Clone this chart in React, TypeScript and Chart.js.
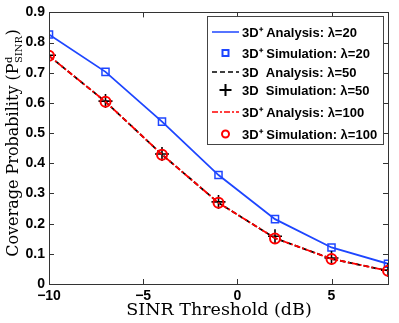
import React, { useEffect, useRef } from 'react';
import { Chart, registerables } from 'chart.js';

Chart.register(...registerables);

const sinrThreshold = [-10, -7, -4, -1, 2, 5, 8];
const analysis3DPlus20 = [0.827, 0.703, 0.538, 0.361, 0.215, 0.121, 0.067];
const simulation3DPlus20 = [0.827, 0.703, 0.538, 0.361, 0.215, 0.121, 0.067];
const analysis3D50 = [0.756, 0.604, 0.429, 0.269, 0.152, 0.083, 0.044];
const simulation3D50 = [0.758, 0.606, 0.431, 0.272, 0.158, 0.086, 0.046];
const analysis3DPlus100 = [0.756, 0.604, 0.429, 0.269, 0.152, 0.083, 0.044];
const simulation3DPlus100 = [0.756, 0.604, 0.428, 0.269, 0.151, 0.083, 0.044];
const xTickValues = [-10, -5, 0, 5];
const yTickValues = [0, 0.1, 0.2, 0.3, 0.4, 0.5, 0.6, 0.7, 0.8, 0.9];
const legendLabels = [
  '3D\u207A Analysis: \u03BB=20',
  '3D\u207A Simulation: \u03BB=20',
  '3D  Analysis: \u03BB=50',
  '3D  Simulation: \u03BB=50',
  '3D\u207A Analysis: \u03BB=100',
  '3D\u207A Simulation: \u03BB=100',
];
const xTitle = 'SINR Threshold (dB)';
const yTitle = 'Coverage Probability (';

const BLUE = 'rgb(30,70,255)';
const RED = 'rgb(255,0,0)';
const BLACK = 'rgb(0,0,0)';

const fmt = (v: number) => {
  const r = Math.round(v * 10) / 10;
  if (r < 0) return '\u2212' + String(-r);
  return String(r);
};

const decorPlugin = {
  id: 'decor',
  afterDraw(chart: any) {
    const ctx = chart.ctx as CanvasRenderingContext2D;
    const a = chart.chartArea;
    const xs = chart.scales.x;
    const ys = chart.scales.y;
    ctx.save();
    // box
    ctx.strokeStyle = '#333';
    ctx.lineWidth = 1;
    ctx.strokeRect(Math.round(a.left) + 0.5, Math.round(a.top) + 0.5, Math.round(a.right - a.left), Math.round(a.bottom - a.top));
    // inward ticks
    const tl = 5;
    ctx.beginPath();
    for (const v of xTickValues.concat([8])) {
      const px = Math.round(xs.getPixelForValue(v)) + 0.5;
      ctx.moveTo(px, a.bottom);
      ctx.lineTo(px, a.bottom - tl);
      ctx.moveTo(px, a.top);
      ctx.lineTo(px, a.top + tl);
    }
    for (const v of yTickValues) {
      const py = Math.round(ys.getPixelForValue(v)) + 0.5;
      ctx.moveTo(a.left, py);
      ctx.lineTo(a.left + tl, py);
      ctx.moveTo(a.right, py);
      ctx.lineTo(a.right - tl, py);
    }
    ctx.stroke();

    const serif = '"DejaVu Serif"';
    // x title
    ctx.fillStyle = '#000';
    ctx.font = '17.5px ' + serif;
    ctx.textAlign = 'center';
    ctx.textBaseline = 'alphabetic';
    ctx.fillText(xTitle, 219, 315);

    // y title with P^d_SINR
    ctx.save();
    ctx.translate(18, 143);
    ctx.rotate(-Math.PI / 2);
    const mainFont = '16px ' + serif;
    const smallFont = '10px ' + serif;
    ctx.font = mainFont;
    const w1 = ctx.measureText(yTitle).width;
    const wP = ctx.measureText('P').width;
    const wClose = ctx.measureText(')').width;
    ctx.font = smallFont;
    const wSub = Math.max(ctx.measureText('SINR').width, ctx.measureText('d').width);
    const total = w1 + wP + wSub + 1 + wClose;
    let x = -total / 2;
    ctx.textAlign = 'left';
    ctx.textBaseline = 'alphabetic';
    ctx.font = mainFont;
    ctx.fillText(yTitle, x, 0);
    x += w1;
    ctx.fillText('P', x, 0);
    x += wP;
    ctx.font = smallFont;
    ctx.fillText('d', x + 0.5, -6);
    ctx.fillText('SINR', x + 0.5, 4);
    x += wSub + 1;
    ctx.font = mainFont;
    ctx.fillText(')', x, 0);
    ctx.restore();

    // legend
    const lx = 207, ly = 16, lw = 176, lh = 128;
    ctx.fillStyle = '#fff';
    ctx.fillRect(lx, ly, lw, lh);
    ctx.strokeStyle = '#444';
    ctx.lineWidth = 1;
    ctx.strokeRect(lx + 0.5, ly + 0.5, lw, lh);
    const rows = [32, 53, 72, 90, 112, 134];
    const sx0 = 212, sx1 = 239, mx = 225.5;
    const styles = [
      { type: 'line', color: BLUE, dash: [] as number[] },
      { type: 'rect', color: BLUE },
      { type: 'line', color: BLACK, dash: [5, 3] },
      { type: 'cross', color: BLACK },
      { type: 'line', color: RED, dash: [6, 2, 2, 2] },
      { type: 'circle', color: RED },
    ];
    styles.forEach((s: any, i) => {
      const y = rows[i];
      ctx.strokeStyle = s.color;
      ctx.lineWidth = s.type === 'line' ? 1.5 : 2;
      ctx.setLineDash(s.dash || []);
      ctx.beginPath();
      if (s.type === 'line') {
        ctx.moveTo(sx0, y);
        ctx.lineTo(sx1, y);
      } else if (s.type === 'rect') {
        ctx.rect(mx - 3, y - 3, 6, 6);
      } else if (s.type === 'cross') {
        ctx.moveTo(mx - 6, y);
        ctx.lineTo(mx + 6, y);
        ctx.moveTo(mx, y - 6);
        ctx.lineTo(mx, y + 6);
      } else {
        ctx.arc(mx, y, 3.5, 0, Math.PI * 2);
      }
      ctx.stroke();
      ctx.setLineDash([]);
      ctx.fillStyle = '#000';
      ctx.font = 'bold 13px "Liberation Sans"';
      ctx.textAlign = 'left';
      ctx.textBaseline = 'middle';
      ctx.fillText(legendLabels[i], 242, y + 1);
    });
    ctx.restore();
  },
};

const toPts = (ys: number[]) => sinrThreshold.map((x, i) => ({ x, y: ys[i] }));

export default function App() {
  const ref = useRef<HTMLCanvasElement>(null);
  useEffect(() => {
    if (!ref.current) return;
    const chart = new Chart(ref.current, {
      type: 'line',
      data: {
        datasets: [
          { label: legendLabels[0], data: toPts(analysis3DPlus20), borderColor: BLUE, borderWidth: 1.8, pointRadius: 0, fill: false, order: 6 },
          { label: legendLabels[1], data: toPts(simulation3DPlus20), showLine: false, pointStyle: 'rect', pointRadius: 5, borderColor: BLUE, backgroundColor: 'rgba(0,0,0,0)', pointBorderWidth: 1.5, order: 5 },
          { label: legendLabels[2], data: toPts(analysis3D50), borderColor: BLACK, borderWidth: 1.8, borderDash: [5, 3], pointRadius: 0, fill: false, order: 4 },
          { label: legendLabels[3], data: toPts(simulation3D50), showLine: false, pointStyle: 'cross', pointRadius: 7, borderColor: BLACK, backgroundColor: BLACK, pointBorderWidth: 1.6, order: 3 },
          { label: legendLabels[4], data: toPts(analysis3DPlus100), borderColor: RED, borderWidth: 1.8, borderDash: [6, 2, 2, 2], pointRadius: 0, fill: false, order: 2 },
          { label: legendLabels[5], data: toPts(simulation3DPlus100), showLine: false, pointStyle: 'circle', pointRadius: 5, borderColor: RED, backgroundColor: 'rgba(0,0,0,0)', pointBorderWidth: 2, order: 1 },
        ] as any,
      },
      options: {
        animation: false,
        responsive: false,
        devicePixelRatio: 1,
        layout: { padding: { top: 11, right: 11, left: 0, bottom: 0 } },
        plugins: { legend: { display: false }, tooltip: { enabled: false } },
        elements: { line: { tension: 0 } },
        scales: {
          x: {
            type: 'linear',
            min: -10,
            max: 8,
            border: { display: false },
            grid: { display: false, drawTicks: false },
            afterBuildTicks: (s: any) => { s.ticks = xTickValues.map((v) => ({ value: v })); },
            afterFit: (s: any) => { s.height = 39; },
            ticks: {
              padding: 4,
              color: '#000',
              font: { family: '"Liberation Sans"', size: 14, weight: 'bold' },
              callback: (v: any) => fmt(Number(v)),
              maxRotation: 0,
              autoSkip: false,
            },
          },
          y: {
            type: 'linear',
            min: 0,
            max: 0.9,
            border: { display: false },
            grid: { display: false, drawTicks: false },
            afterBuildTicks: (s: any) => { s.ticks = yTickValues.map((v) => ({ value: v })); },
            afterFit: (s: any) => { s.width = 49; },
            ticks: {
              padding: 4,
              color: '#000',
              font: { family: '"Liberation Sans"', size: 14, weight: 'bold' },
              callback: (v: any) => fmt(Number(v)),
              autoSkip: false,
            },
          },
        },
      } as any,
      plugins: [decorPlugin],
    });
    return () => chart.destroy();
  }, []);
  return (
    <div style={{ position: 'fixed', left: 0, top: 0, width: 399, height: 323, background: '#fff' }}>
      <canvas ref={ref} width={399} height={323} style={{ display: 'block', width: 399, height: 323 }} />
    </div>
  );
}
